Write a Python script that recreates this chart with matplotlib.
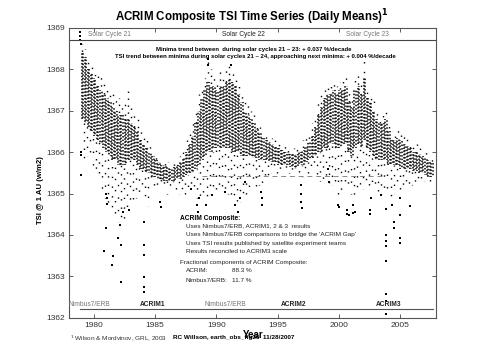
import numpy as np
import matplotlib
matplotlib.use("Agg")
import matplotlib.pyplot as plt

# ---------------- data ----------------
years = np.arange(1979.0, 2007.51, 0.25)
# sparse upper extent, dense band top, dense band bottom, sparse lower extent (W/m2)
tsi_top = [1368.6, 1368.5, 1368.3, 1368.1, 1368.0, 1367.9, 1367.9, 1367.8,
           1367.6, 1367.4, 1367.5, 1367.3, 1367.3, 1367.2, 1367.3, 1367.6,
           1367.1, 1366.9, 1366.8, 1366.6, 1366.5, 1366.3, 1366.2, 1366.0,
           1365.9, 1365.85, 1365.8, 1365.8, 1365.75, 1365.75, 1365.8, 1365.85,
           1365.9, 1366.0, 1366.3, 1366.5, 1366.7, 1367.0, 1367.4, 1367.6,
           1367.8, 1368.2, 1368.0, 1367.9, 1367.8, 1368.0, 1367.9, 1368.0,
           1368.1, 1368.0, 1367.9, 1367.6, 1367.4, 1367.3, 1367.2, 1367.0,
           1366.9, 1366.7, 1366.6, 1366.5, 1366.45, 1366.4, 1366.35, 1366.3,
           1366.25, 1366.2, 1366.15, 1366.1, 1366.1, 1366.1, 1366.1, 1366.2,
           1366.3, 1366.4, 1366.5, 1366.7, 1366.9, 1367.2, 1367.4, 1367.6,
           1367.6, 1367.7, 1367.7, 1367.6, 1367.7, 1367.8, 1367.9, 1367.5,
           1367.4, 1367.8, 1367.9, 1367.7, 1368.3, 1367.5, 1367.4, 1367.3,
           1367.0, 1366.9, 1366.9, 1367.1, 1366.7, 1366.5, 1366.5, 1366.6,
           1366.5, 1366.4, 1366.4, 1366.3, 1366.2, 1366.2, 1366.1, 1366.0,
           1366.0, 1365.95, 1365.9]
tsi_hi = [1368.4, 1368.3, 1368.0, 1367.9, 1367.8, 1367.6, 1367.5, 1367.4,
          1367.3, 1367.2, 1367.1, 1367.0, 1366.9, 1366.9, 1366.8, 1366.8,
          1366.7, 1366.6, 1366.5, 1366.3, 1366.2, 1366.1, 1366.0, 1365.9,
          1365.8, 1365.75, 1365.7, 1365.7, 1365.65, 1365.6, 1365.65, 1365.7,
          1365.75, 1365.85, 1366.0, 1366.2, 1366.4, 1366.7, 1367.0, 1367.3,
          1367.5, 1367.7, 1367.6, 1367.6, 1367.5, 1367.6, 1367.6, 1367.7,
          1367.8, 1367.7, 1367.6, 1367.4, 1367.2, 1367.0, 1366.9, 1366.8,
          1366.7, 1366.55, 1366.45, 1366.35, 1366.3, 1366.25, 1366.2, 1366.15,
          1366.1, 1366.05, 1366.0, 1366.0, 1365.95, 1365.95, 1365.95, 1366.0,
          1366.05, 1366.15, 1366.25, 1366.4, 1366.6, 1366.9, 1367.1, 1367.3,
          1367.4, 1367.4, 1367.5, 1367.4, 1367.5, 1367.5, 1367.6, 1367.2,
          1367.1, 1367.5, 1367.6, 1367.4, 1367.8, 1367.3, 1367.2, 1367.0,
          1366.8, 1366.7, 1366.7, 1366.8, 1366.5, 1366.3, 1366.3, 1366.35,
          1366.3, 1366.2, 1366.15, 1366.1, 1366.0, 1366.0, 1365.95, 1365.9,
          1365.85, 1365.8, 1365.75]
tsi_lo = [1366.8, 1366.7, 1366.6, 1366.5, 1366.4, 1366.3, 1366.2, 1366.1,
          1366.0, 1365.9, 1365.8, 1365.8, 1365.7, 1365.7, 1365.7, 1365.8,
          1365.8, 1365.8, 1365.7, 1365.6, 1365.6, 1365.5, 1365.5, 1365.4,
          1365.4, 1365.35, 1365.3, 1365.3, 1365.3, 1365.3, 1365.3, 1365.35,
          1365.35, 1365.4, 1365.45, 1365.5, 1365.5, 1365.6, 1365.7, 1365.8,
          1365.9, 1366.0, 1366.0, 1366.1, 1366.1, 1366.1, 1366.1, 1366.1,
          1366.1, 1366.0, 1366.0, 1366.0, 1365.9, 1365.9, 1365.9, 1365.9,
          1365.85, 1365.85, 1365.8, 1365.8, 1365.8, 1365.75, 1365.75, 1365.75,
          1365.7, 1365.7, 1365.7, 1365.7, 1365.65, 1365.65, 1365.65, 1365.7,
          1365.7, 1365.75, 1365.8, 1365.85, 1365.9, 1366.0, 1366.0, 1366.1,
          1366.1, 1366.2, 1366.2, 1366.1, 1366.1, 1366.2, 1366.2, 1366.0,
          1365.9, 1366.1, 1366.2, 1366.1, 1366.3, 1366.1, 1366.0, 1365.9,
          1365.8, 1365.8, 1365.8, 1365.8, 1365.7, 1365.7, 1365.7, 1365.7,
          1365.6, 1365.6, 1365.6, 1365.6, 1365.55, 1365.55, 1365.5, 1365.5,
          1365.45, 1365.4, 1365.4]
tsi_bot = [1365.8, 1365.9, 1365.8, 1365.7, 1365.5, 1365.3, 1365.0, 1364.9,
           1364.7, 1364.5, 1364.4, 1364.3, 1364.3, 1364.4, 1364.5, 1364.6,
           1364.8, 1364.9, 1364.9, 1365.0, 1364.9, 1364.7, 1365.2, 1365.2,
           1365.1, 1365.1, 1365.1, 1365.0, 1365.1, 1365.1, 1365.0, 1365.0,
           1365.0, 1365.0, 1365.0, 1365.0, 1365.1, 1364.9, 1364.8, 1364.8,
           1364.9, 1365.0, 1365.0, 1365.1, 1365.1, 1365.0, 1365.0, 1365.0,
           1364.9, 1364.8, 1364.7, 1364.8, 1364.9, 1365.0, 1365.0, 1365.1,
           1365.1, 1365.2, 1365.1, 1365.2, 1365.4, 1365.5, 1365.5, 1365.5,
           1365.5, 1365.5, 1365.5, 1365.5, 1365.5, 1365.45, 1365.4, 1365.4,
           1365.5, 1365.5, 1365.5, 1365.5, 1365.4, 1365.3, 1365.2, 1365.2,
           1365.2, 1365.2, 1365.1, 1365.0, 1365.0, 1365.1, 1365.1, 1365.0,
           1364.9, 1365.0, 1365.1, 1365.1, 1365.2, 1365.2, 1365.1, 1365.0,
           1365.0, 1365.0, 1365.0, 1364.9, 1364.9, 1365.0, 1365.1, 1365.1,
           1365.1, 1365.1, 1365.1, 1365.2, 1365.2, 1365.2, 1365.25, 1365.3,
           1365.3, 1365.3, 1365.3]

# isolated daily values away from the band
out_year = [1978.88, 1978.88, 1978.88, 1978.88, 1978.92, 1978.96, 1978.96, 1978.96,
            1980.83, 1980.97, 1981.0, 1981.1, 1981.1, 1981.5, 1981.6, 1981.97,
            1982.1, 1982.19, 1982.19, 1982.38, 1982.9,
            1984.09, 1984.09, 1984.09, 1984.09, 1984.09, 1984.09,
            1985.37, 1985.5, 1987.95, 1988.44, 1988.5, 1988.6, 1989.17, 1989.3,
            1989.3, 1989.6, 1990.66, 1991.2, 1991.48, 1991.75, 1991.9, 1992.3,
            1993.65, 1993.7, 1993.72, 1996.9, 1996.9, 1996.92, 1996.95,
            1999.08, 1999.2, 1999.9, 2000.0, 2000.66, 2000.66, 2000.77,
            2001.15, 2001.15, 2001.26, 2002.5, 2002.5, 2002.6, 2003.4,
            2003.8, 2003.8, 2003.8, 2003.8, 2003.8, 2003.8, 2003.8, 2003.8,
            2004.35, 2004.46, 2004.46, 2005.0, 2005.0, 2005.0, 2005.0, 2005.75]
out_tsi = [1369.0, 1368.9, 1368.8, 1368.7, 1368.6, 1365.45, 1365.93, 1366.0,
           1363.6, 1364.16, 1365.0, 1364.9, 1364.75, 1363.27, 1363.5, 1363.92,
           1364.24, 1362.87, 1363.75, 1364.56, 1364.6,
           1363.76, 1363.51, 1362.99, 1362.75, 1362.63, 1364.3,
           1364.8, 1364.67, 1365.12, 1364.72, 1364.55, 1364.88, 1364.72, 1368.1,
           1368.26, 1364.96, 1365.04, 1368.1, 1364.72, 1364.55, 1364.88, 1365.28,
           1365.04, 1364.88, 1364.72, 1365.2, 1365.0, 1364.8, 1364.64,
           1365.6, 1365.28, 1364.72, 1364.68, 1364.6, 1364.5, 1364.47,
           1364.72, 1364.52, 1364.55, 1364.6, 1364.5, 1364.88, 1364.96,
           1364.63, 1364.0, 1363.86, 1363.73, 1363.37, 1362.57, 1362.41, 1362.1,
           1364.72, 1364.32, 1364.16, 1364.88, 1364.49, 1363.92, 1363.81, 1364.7]

minima_level = 1365.43
minima_span = [1988.8, 2003.5]

cycle_names = ["Solar Cycle 21", "Solar Cycle 22", "Solar Cycle 23"]
cycle_x = [1981.3, 1992.2, 2002.3]
cycle_colors = ["#777777", "#222222", "#777777"]

inst_names = ["Nimbus7/ERB", "ACRIM1", "Nimbus7/ERB", "ACRIM2", "ACRIM3"]
inst_x = [1979.6, 1984.8, 1990.7, 1996.3, 2004.0]
inst_bold = [False, True, False, True, True]

x_ticks = [1980, 1985, 1990, 1995, 2000, 2005]
y_ticks = [1362, 1363, 1364, 1365, 1366, 1367, 1368, 1369]

# ---------------- figure ----------------
plt.rcParams['font.family'] = ['Liberation Sans', 'DejaVu Sans']
fig = plt.figure(figsize=(4.82, 3.63), dpi=100)
ax = fig.add_axes([0.1438, 0.1248, 0.7608, 0.7983])

# dotted columns with staggered dash phases -> speckled scatter look
phase_cycle = [0.0, 1.3, 0.6, 1.9, 0.3, 1.6, 0.9, 2.2, 0.45, 1.1]
n = len(years)
dense_a = [(phase_cycle[i % 10], (1, 1.1)) for i in range(n)]
dense_b = [(phase_cycle[(i + 5) % 10], (1, 1.3)) for i in range(n)]
sparse_up = [(phase_cycle[(i + 3) % 10] * 2, (1, 4 + (i % 3))) for i in range(n)]
sparse_dn = [(phase_cycle[(i + 7) % 10] * 2, (1, 5 + (i % 4))) for i in range(n)]

ax.vlines(years, tsi_lo, tsi_hi, colors='black', linewidth=1.1, linestyles=dense_a)
ax.vlines(years + 0.125, tsi_lo, tsi_hi, colors='black', linewidth=1.1, linestyles=dense_b)
ax.vlines(years + 0.06, tsi_hi, tsi_top, colors='black', linewidth=1.0, linestyles=sparse_up)
ax.vlines(years + 0.19, tsi_bot, tsi_lo, colors='black', linewidth=1.0, linestyles=sparse_dn)
ax.scatter(out_year, out_tsi, s=2.2, c='black', marker='s', linewidths=0)

ax.plot(minima_span, [minima_level, minima_level], color='#888888',
        linewidth=0.7, linestyle=(0, (5, 4)))

ax.set_xlim(1978.0, 2007.9)
ax.set_ylim(1362, 1369)
ax.set_xticks(x_ticks)
ax.set_yticks(y_ticks)
ax.tick_params(direction='in', length=3, width=0.6, labelsize=6,
               top=True, right=True, labelcolor='#333333', color='#444444', pad=3)
for s in ax.spines.values():
    s.set_color('#555555')
    s.set_linewidth(0.8)

# solar cycle strip
ax.axhline(1368.71, color='#444444', linewidth=0.8)
for name, xc, col in zip(cycle_names, cycle_x, cycle_colors):
    ax.text(xc, 1368.85, name, ha='center', va='center', fontsize=4.8, color=col)

ax.text(1993.0, 1368.48, "Minima trend between  during solar cycles 21 \u2013 23: + 0.037 %/decade",
        ha='center', va='center', fontsize=4.3, fontweight='bold')
ax.text(1993.2, 1368.31, "TSI trend between minima during solar cycles 21 \u2013 24, approaching next minima: + 0.004 %/decade",
        ha='center', va='center', fontsize=4.3, fontweight='bold')

# instrument labels
ax.plot([1978.87, 2007.64], [1362.21, 1362.21], color='#555555', linewidth=0.8)
for name, xc, b in zip(inst_names, inst_x, inst_bold):
    ax.text(xc, 1362.33, name, ha='center', va='center', fontsize=4.8,
            fontweight='bold' if b else 'normal', color='#222222' if b else '#777777')

# text block
tx0, tx1 = 1987.0, 1987.5
ax.text(tx0, 1364.40, "ACRIM Composite:", fontsize=4.8, fontweight='bold', va='center')
lines = ["Uses Nimbus7/ERB, ACRIM1, 2 & 3  results",
         "Uses Nimbus7/ERB comparisons to bridge the 'ACRIM Gap'",
         "Uses TSI results published by satellite experiment teams",
         "Results reconciled to ACRIM3 scale"]
for i, t in enumerate(lines):
    ax.text(tx1, 1364.21 - 0.205 * i, t, fontsize=4.6, va='center', color='#222222')
ax.text(tx0, 1363.33, "Fractional components of ACRIM Composite:", fontsize=4.6,
        va='center', color='#222222')
ax.text(tx1, 1363.14, "ACRIM:", fontsize=4.6, va='center', color='#222222')
ax.text(1991.3, 1363.14, "88.3 %", fontsize=4.6, va='center', color='#222222')
ax.text(tx1, 1362.91, "Nimbus7/ERB:", fontsize=4.6, va='center', color='#222222')
ax.text(1991.3, 1362.91, "11.7 %", fontsize=4.6, va='center', color='#222222')

# titles and labels
fig.text(0.523, 0.953, "ACRIM Composite TSI Time Series (Daily Means)$^{\\mathbf{1}}$",
         ha='center', va='center', fontsize=8.3, fontweight='bold')
fig.text(0.085, 0.477, "TSI @ 1 AU (w/m2)", rotation=90, ha='center', va='center',
         fontsize=5.6, fontweight='bold')
fig.text(0.525, 0.077, "Year", ha='center', va='center', fontsize=7, fontweight='bold')
fig.text(0.145, 0.069, "$^1$ Wilson & Mordvinov, GRL, 2003", ha='left', va='center',
         fontsize=4.6, color='#333333')
fig.text(0.358, 0.069, "RC Willson, earth_obs_fig26  11/28/2007", ha='left', va='center',
         fontsize=4.6, fontweight='bold')

fig.savefig("out.png", dpi=100)
